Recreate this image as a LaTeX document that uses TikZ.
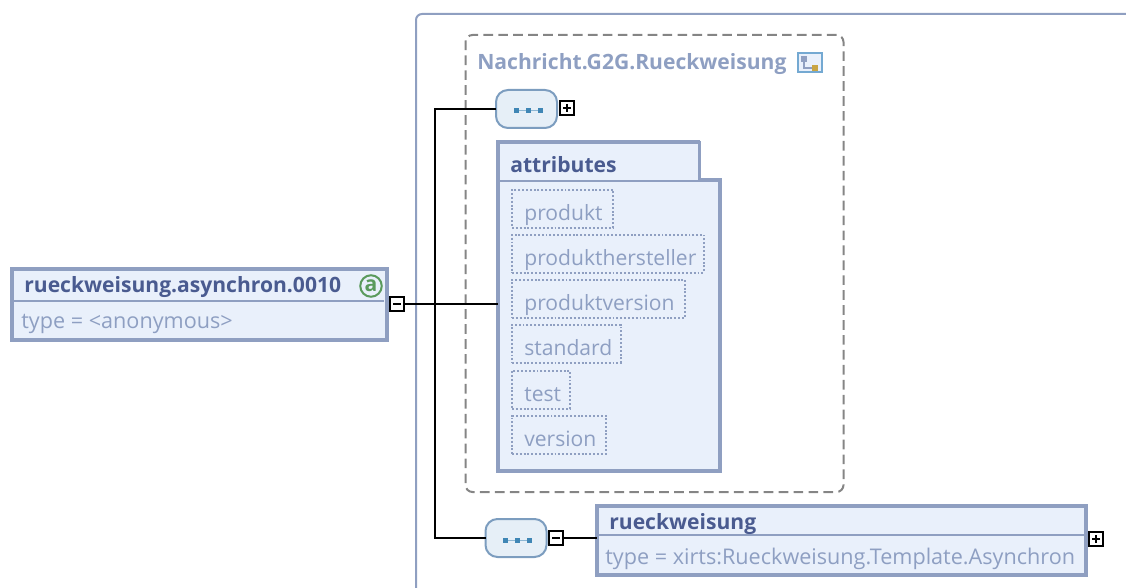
\documentclass[tikz,border=0pt]{standalone}
\usepackage{fontspec}
\setmainfont{Open Sans}
\usetikzlibrary{calc}

\definecolor{boxfill}{HTML}{E9F0FB}
\definecolor{boxline}{HTML}{8F9FC1}
\definecolor{titlecol}{HTML}{4A5B90}
\definecolor{greytext}{HTML}{8E9FC2}
\definecolor{seqfill}{HTML}{E6EFF7}
\definecolor{seqline}{HTML}{7C9DBF}
\definecolor{seqdot}{HTML}{3F86B5}
\definecolor{dashcol}{HTML}{858585}
\definecolor{agreen}{HTML}{5A9A5C}
\definecolor{iconline}{HTML}{74A9D2}
\definecolor{icondot}{HTML}{C9A544}

\def\pxu{0.02cm}

\tikzset{
	elembox/.style={draw=boxline, fill=boxfill, line width=4*\pxu, inner sep=0pt, outer sep=0pt},
	seqbox/.style={draw=seqline, fill=seqfill, line width=2*\pxu, rounded corners=12*\pxu, inner sep=0pt, outer sep=0pt, minimum width=61*\pxu, minimum height=38*\pxu},
	attrbox/.style={draw=boxline, dash pattern=on 1.1pt off 1.1pt, line width=2*\pxu, inner sep=0pt, outer sep=0pt, minimum height=38*\pxu},
	togglebox/.style={draw=black, fill=white, line width=2*\pxu, inner sep=0pt, outer sep=0pt, minimum width=14*\pxu, minimum height=14*\pxu},
	minusbox/.style={togglebox, path picture={
		\draw[line width=2*\pxu] ($(path picture bounding box.center)+(-4,0)$) -- ($(path picture bounding box.center)+(4,0)$);}},
	plusbox/.style={togglebox, path picture={
		\draw[line width=2*\pxu] ($(path picture bounding box.center)+(-4,0)$) -- ($(path picture bounding box.center)+(4,0)$);
		\draw[line width=2*\pxu] ($(path picture bounding box.center)+(0,-4)$) -- ($(path picture bounding box.center)+(0,4)$);}},
	conn/.style={draw=black, line width=2*\pxu},
	titletext/.style={font=\fontsize{12}{12}\selectfont\bfseries, text=titlecol, anchor=west, inner sep=0pt},
	greylabel/.style={font=\fontsize{12}{12}\selectfont, text=greytext, anchor=base west, inner sep=0pt},
	typelabel/.style={greylabel, font=\fontsize{12.3}{12}\selectfont},
	seqdotbox/.style={fill=seqdot, inner sep=0pt, minimum size=5*\pxu},
}

\begin{document}
\begin{tikzpicture}[x=0.02cm, y=-0.02cm]
	\useasboundingbox (0,0) rectangle (1126,588);

	% marco exterior, abierto a la derecha y abajo
	\draw[boxline, line width=2*\pxu, rounded corners=6*\pxu] (1126,14) -- (416,14) -- (416,588);

	% grupo de atributos
	\node[draw=dashcol, dashed, dash pattern=on 5.5pt off 3pt, line width=2*\pxu, rounded corners=7*\pxu, inner sep=0pt, minimum width=378*\pxu, minimum height=457*\pxu] (groupbox) at (654.5,263.5) {};
	\node[titletext, text=greytext] (grouptitle) at (477,64) {Nachricht.G2G.Rueckweisung};
	\node[draw=iconline, fill=boxfill, line width=2*\pxu, inner sep=0pt, minimum width=24*\pxu, minimum height=19*\pxu] (groupicon) at (810,63) {};
	\draw[boxline, line width=1.5*\pxu] (804,60) |- (815,68);
	\node[fill=boxline, inner sep=0pt, minimum size=6*\pxu] (groupdota) at (804,59) {};
	\node[fill=icondot, inner sep=0pt, minimum size=6*\pxu] (groupdotb) at (815,68) {};

	% elemento raiz
	\node[elembox, minimum width=375*\pxu, minimum height=71*\pxu] (rootbox) at (199.5,304.5) {};
	\draw[boxline, line width=2*\pxu] (rootbox.west |- 0,301) -- (384,301);
	\node[titletext] (roottitle) at (24,287.5) {rueckweisung.asynchron.0010};
	\node[typelabel] (roottype) at (21,328) {type = <anonymous>};
	\node[circle, draw=agreen, fill=boxfill, line width=2*\pxu, inner sep=0pt, minimum size=21.5*\pxu, text=agreen, font=\fontsize{12}{12}\selectfont\bfseries] (rooticon) at (371,286) {a};
	\node[minusbox] (rootminus) at (397,303.5) {};

	% secuencias
	\node[seqbox] (seqtop) at (526.5,109) {};
	\node[plusbox] (seqtopplus) at (567,108) {};
	\node[seqbox] (seqbottom) at (516,538) {};
	\node[minusbox] (seqbottomminus) at (556,538) {};
	\foreach \n in {seqtop, seqbottom} {
		\draw[seqdot!60, line width=1*\pxu] ($(\n.center)+(-10.5,2)$) -- ($(\n.center)+(13.5,2)$);
		\foreach \d in {-10.5, 1.5, 13.5}
		\node[seqdotbox] at ($(\n.center)+(\d,2)$) {};
	}

	% caja de atributos con la esquina blanca
	\node[elembox, minimum width=222*\pxu, minimum height=329*\pxu] (attrgroup) at (609,306.5) {};
	\node[fill=white, inner sep=0pt, minimum width=22*\pxu, minimum height=38*\pxu, anchor=north east] (attrnotch) at (722.5,139.5) {};
	\draw[boxline, line width=2*\pxu] (498,181) -- (720,181);
	\draw[boxline, line width=3*\pxu] (699.5,141) -- (699.5,179) -- (720,179);
	\node[titletext] (attrtitle) at (510,165) {attributes};

	% atributos: nombre/ancho/centro y
	\foreach \name/\wid/\yc in {produkt/101/208.5, produkthersteller/192/253.5, produktversion/173/298.5, standard/109/343.5, test/58/389.5, version/94/434.5} {
		\node[attrbox, minimum width=\wid*\pxu, anchor=west] (attr\name) at (512,\yc) {};
		\node[greylabel] (label\name) at (524,\yc+12) {\name};
	}

	% elemento inferior
	\node[elembox, minimum width=489*\pxu, minimum height=69*\pxu] (rejectbox) at (841,540) {};
	\draw[boxline, line width=2*\pxu] (597,535) -- (1085,535);
	\node[titletext] (rejecttitle) at (609,524) {rueckweisung};
	\node[typelabel] (rejecttype) at (605,564) {type = xirts:Rueckweisung.Template.Asynchron};
	\node[plusbox] (rejectplus) at (1096,539) {};

	% conexiones
	\coordinate (junction) at (435,304);
	\draw[conn] (rootminus.east) -- (attrgroup.west |- rootminus.east);
	\draw[conn] (seqtop.west) -| (junction) |- (seqbottom.west);
	\draw[conn] (seqbottomminus.east) -- (rejectbox.west |- seqbottomminus.east);
\end{tikzpicture}
\end{document}
